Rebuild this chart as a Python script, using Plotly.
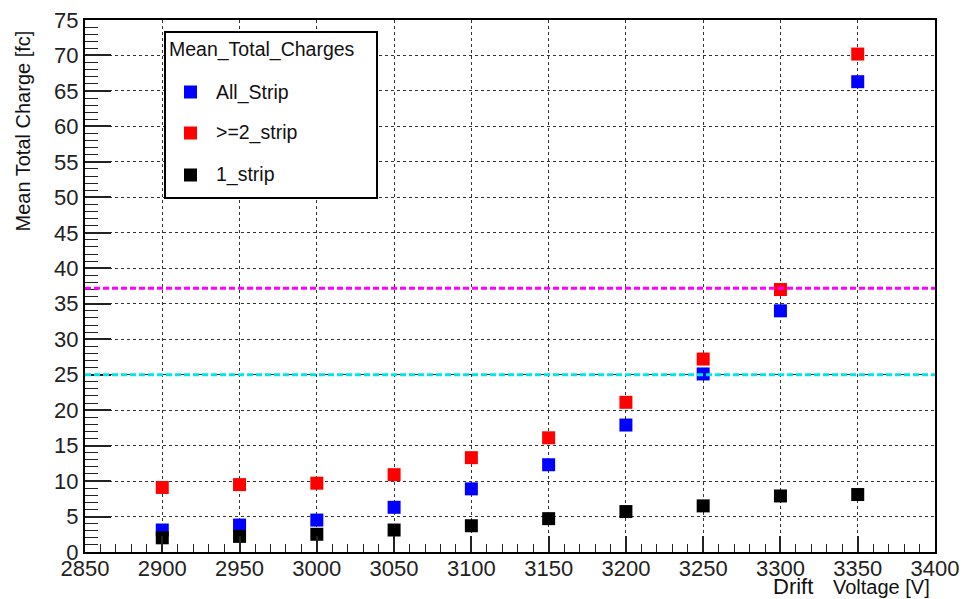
import plotly.graph_objects as go

voltage = [2900, 2950, 3000, 3050, 3100, 3150, 3200, 3250, 3300, 3350]
all_strip = [3.1, 3.8, 4.5, 6.3, 8.9, 12.3, 17.9, 25.1, 34.0, 66.3]
ge2_strip = [9.1, 9.5, 9.7, 10.9, 13.3, 16.1, 21.1, 27.2, 37.0, 70.2]
one_strip = [2.0, 2.2, 2.5, 3.1, 3.7, 4.7, 5.7, 6.5, 7.9, 8.1]
series_names = ["All_Strip", ">=2_strip", "1_strip"]
series_colors = ["#0000ff", "#ff0000", "#000000"]
legend_title = "Mean_Total_Charges"
ref_lines = [37.2, 25.0]
ref_colors = ["#ff00ff", "#00e5e5"]

W, H = 963, 599
L, R, T, B = 85, 28, 20, 47
PW, PH = W - L - R, H - T - B

def px_x(x):
    return (x - L) / PW

def px_y(y):
    return (H - B - y) / PH

FONT = "Liberation Sans, Arial, Helvetica, sans-serif"
TXT = "#111111"

fig = go.Figure()
for i, (name, vals) in enumerate(zip(series_names, [all_strip, ge2_strip, one_strip])):
    fig.add_trace(go.Scatter(
        x=voltage, y=vals, mode="markers", name=name,
        marker=dict(symbol="square", size=13, color=series_colors[i], line=dict(width=0)),
    ))

for yv, c in zip(ref_lines, ref_colors):
    fig.add_shape(type="line", xref="paper", x0=0, x1=1, yref="y", y0=yv, y1=yv,
                  line=dict(color=c, width=3, dash="6px,3px"), layer="above")

# legend box (drawn manually to match the reference layout)
fig.add_shape(type="rect", xref="paper", yref="paper",
              x0=px_x(165), x1=px_x(377), y0=px_y(198), y1=px_y(32),
              line=dict(color="black", width=2), fillcolor="white", layer="above")
fig.add_annotation(text=legend_title, xref="paper", yref="paper",
                   x=px_x(167), y=px_y(50), xanchor="left", yanchor="middle",
                   showarrow=False, font=dict(size=19.5, color=TXT))
leg_y = [92, 133, 175]
for name, c, yy in zip(series_names, series_colors, leg_y):
    fig.add_shape(type="rect", xref="paper", yref="paper",
                  x0=px_x(184), x1=px_x(197), y0=px_y(yy + 6.5), y1=px_y(yy - 6.5),
                  line=dict(width=0), fillcolor=c, layer="above")
    fig.add_annotation(text=name, xref="paper", yref="paper",
                       x=px_x(214), y=px_y(yy), xanchor="left", yanchor="middle",
                       showarrow=False, font=dict(size=19.5, color=TXT))

fig.update_layout(
    width=W, height=H,
    margin=dict(l=L, r=R, t=T, b=B, pad=0, autoexpand=False),
    paper_bgcolor="white", plot_bgcolor="white",
    font=dict(family=FONT, color="#222222", size=20),
    showlegend=False,
)

fig.update_xaxes(
    range=[2850, 3400], dtick=50, tick0=2850, automargin=False,
    ticks="inside", ticklen=16, tickwidth=1.5, tickcolor="#222222",
    minor=dict(dtick=10, ticks="inside", ticklen=8, tickwidth=1.2, tickcolor="#222222", showgrid=False),
    showgrid=True, gridcolor="#333333", griddash="dot", gridwidth=1,
    showline=True, linecolor="black", linewidth=2, mirror=True,
    zeroline=False, tickfont=dict(size=22), ticklabelstandoff=-4,
)
fig.update_yaxes(
    range=[0, 75], dtick=5, tick0=0, automargin=False,
    ticks="inside", ticklen=26, tickwidth=1.5, tickcolor="#222222",
    minor=dict(dtick=1, ticks="inside", ticklen=13, tickwidth=1.2, tickcolor="#222222", showgrid=False),
    showgrid=True, gridcolor="#333333", griddash="dot", gridwidth=1,
    showline=True, linecolor="black", linewidth=2, mirror=True,
    zeroline=False, tickfont=dict(size=22),
)

fig.add_annotation(text="Mean Total Charge [fc]", xref="paper", yref="paper",
                   x=px_x(23), y=px_y(29), xanchor="center", yanchor="top",
                   textangle=-90, showarrow=False, font=dict(size=20, color=TXT))
fig.add_annotation(text="Voltage [V]", xref="paper", yref="paper",
                   x=px_x(932), y=px_y(587), xanchor="right", yanchor="middle",
                   showarrow=False, font=dict(size=20, color=TXT))
fig.add_annotation(text="Drift", xref="paper", yref="paper",
                   x=px_x(815), y=px_y(586), xanchor="right", yanchor="middle",
                   showarrow=False, font=dict(size=22, color=TXT))

fig.write_html("out.html", config={"displayModeBar": False},
               post_script="document.body.style.margin='0px';document.body.style.overflow='hidden';")
